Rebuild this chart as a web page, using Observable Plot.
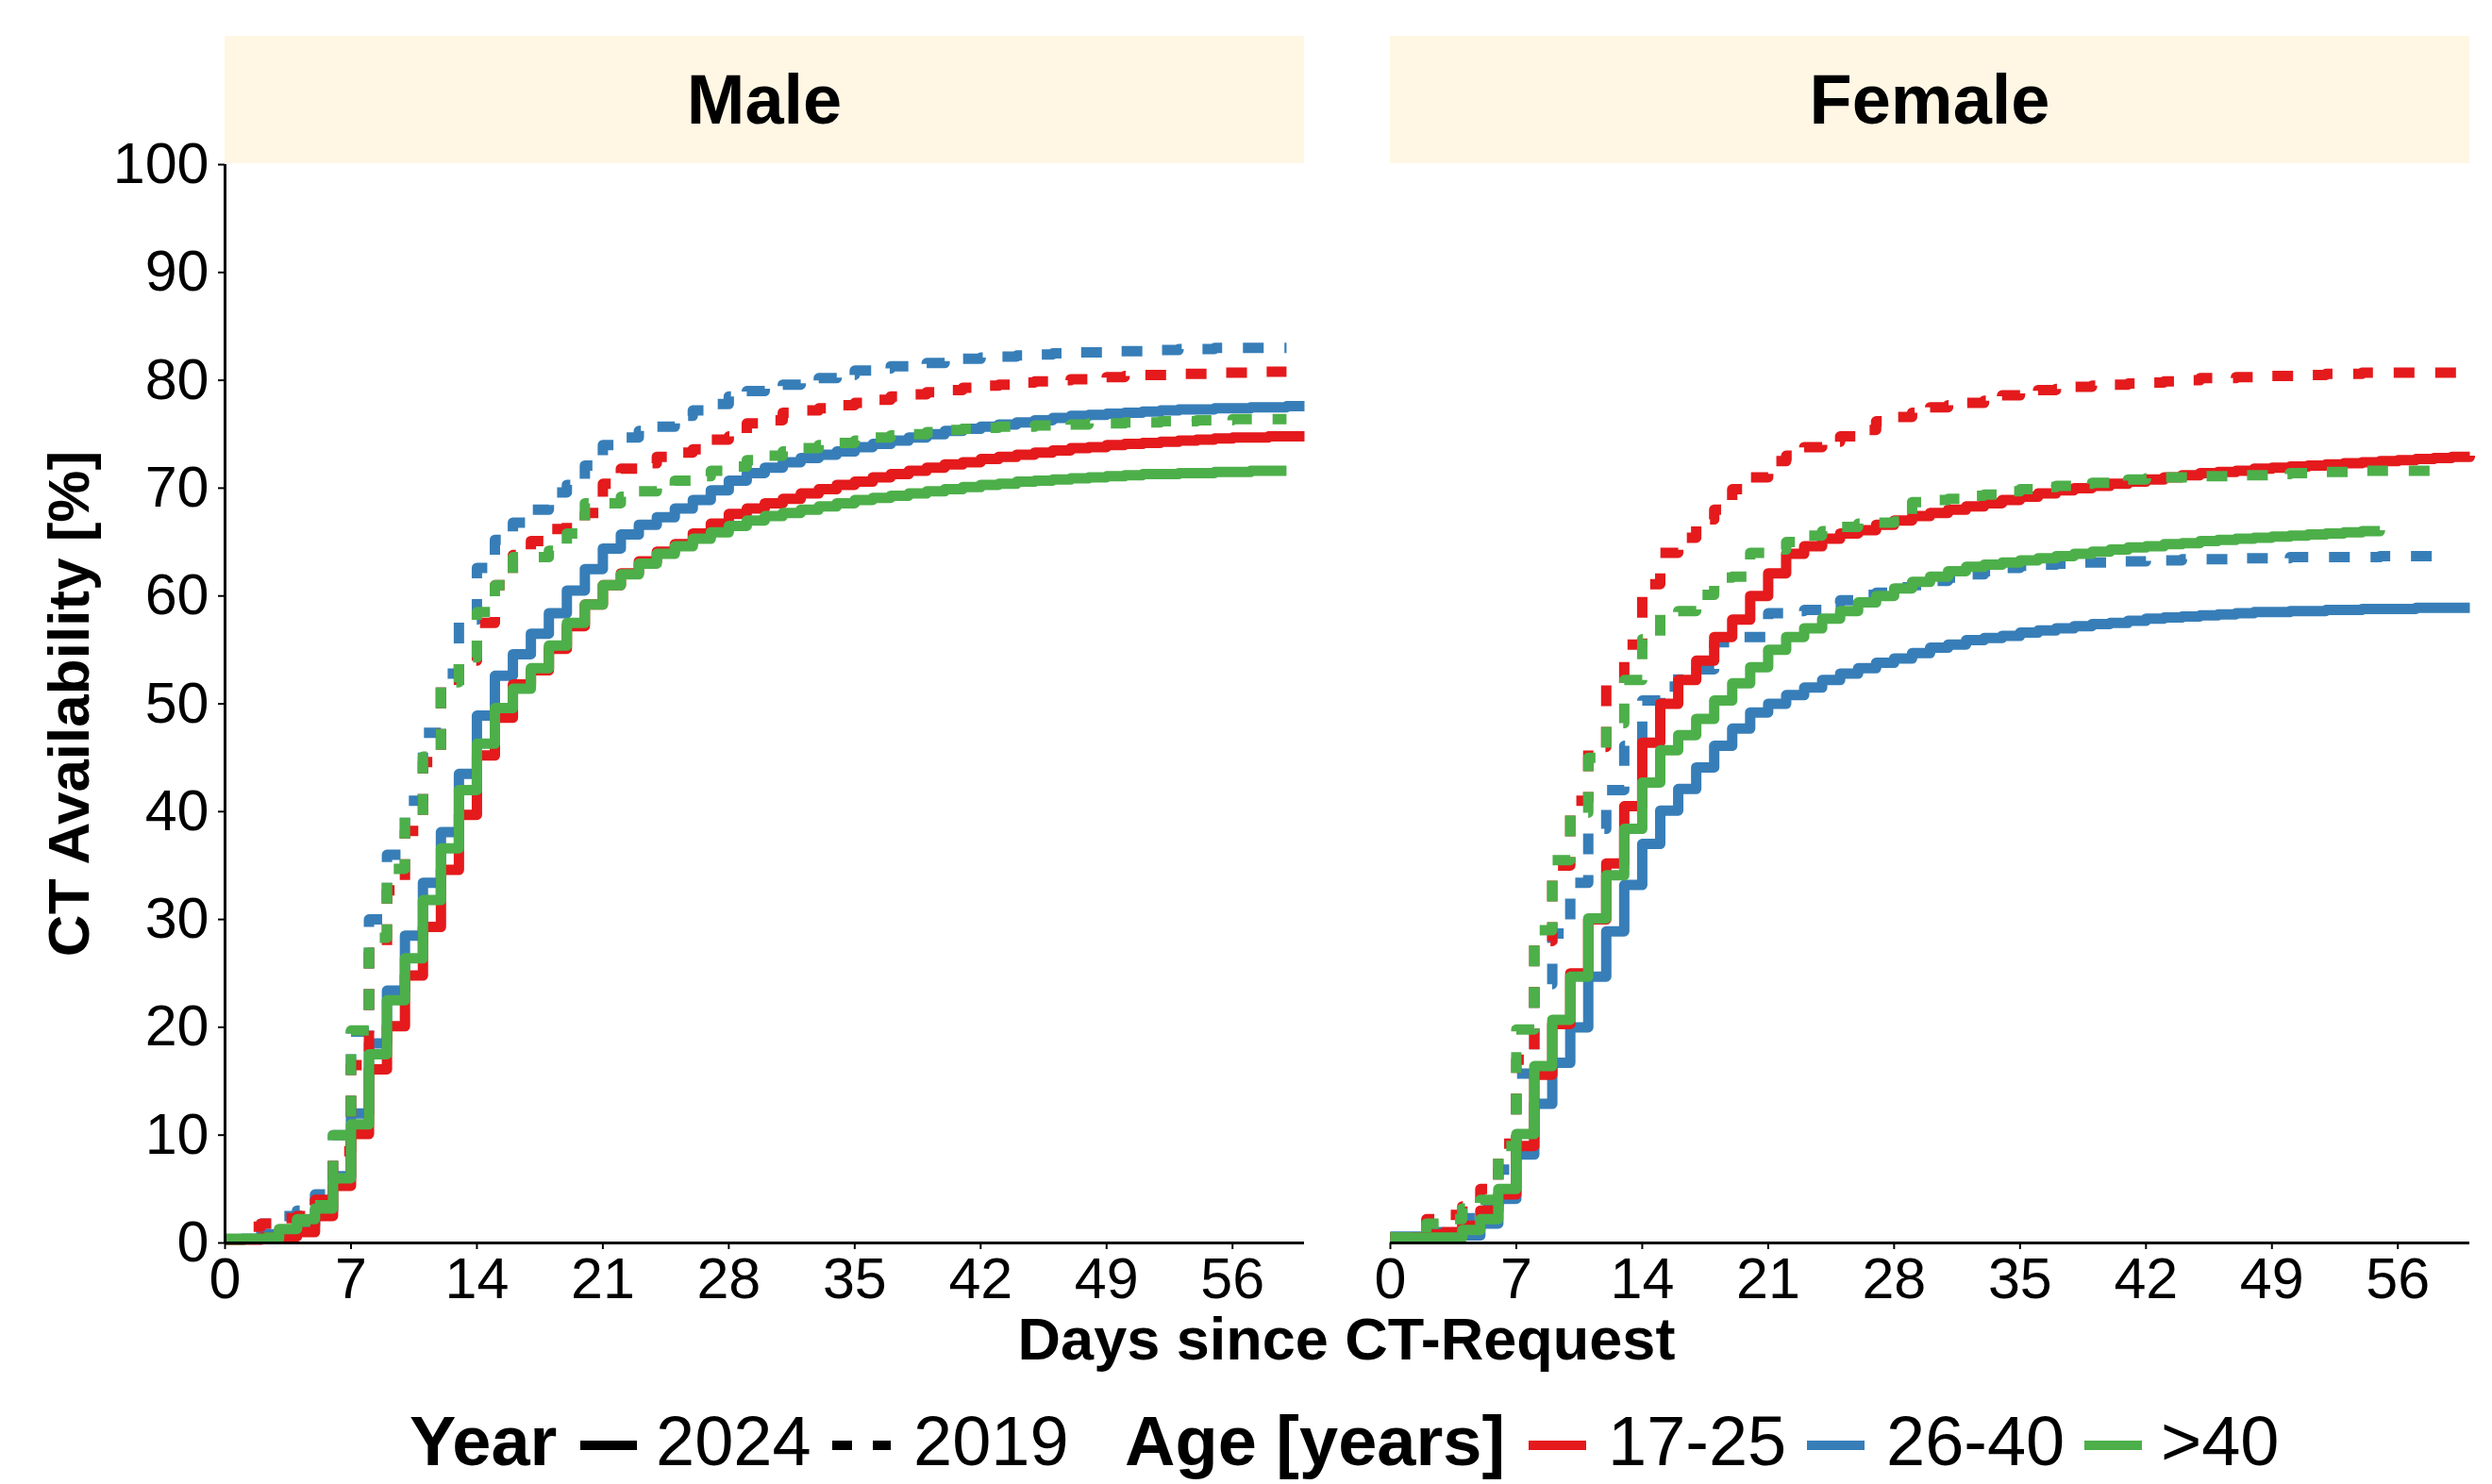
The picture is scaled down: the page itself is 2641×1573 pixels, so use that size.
<!DOCTYPE html>
<html>
<head>
<meta charset="utf-8">
<script src="https://cdn.jsdelivr.net/npm/d3@7"></script>
<script src="https://cdn.jsdelivr.net/npm/@observablehq/plot@0.6"></script>
<style>
  html, body { margin: 0; padding: 0; background: #fff; }
  #root { position: relative; width: 2641px; height: 1573px; overflow: hidden;
          font-family: "Liberation Sans", Arial, Helvetica, sans-serif; color: #000; }
  .strip { position: absolute; top: 38px; height: 135px; background: #FFF7E4;
           font-weight: bold; font-size: 74px; text-align: center; line-height: 135px; }
  .leg { position: absolute; top: 1491px; font-size: 74px; line-height: 74px; white-space: nowrap; }
  .legkey { position: absolute; top: 1526px; }
</style>
</head>
<body>
<div id="root"></div>
<script>
// ---------------- data ----------------
const days = [0,1,2,3,4,5,6,7,8,9,10,11,12,13,14,15,16,17,18,19,20,21,22,23,24,25,26,27,28,29,30,
              31,32,33,34,35,36,37,38,39,40,41,42,43,44,45,46,47,48,49,50,51,52,53,54,55,56,57,58,59,60];
const sexes = ["Male", "Female"];
const ageGroups = ["17-25", "26-40", ">40"];
const ageColors = ["#E41A1C", "#377EB8", "#4DAF4A"];
const years = ["2024", "2019"];
const xTicks = [0, 7, 14, 21, 28, 35, 42, 49, 56];
const yTicks = [0, 10, 20, 30, 40, 50, 60, 70, 80, 90, 100];

// Male, 2024 (solid)
const male2024_17_25 = [0.3,0.3,0.5,0.6,1.0,2.5,5.3,10.1,16.1,20.1,
  24.8,29.3,34.6,39.7,45.2,48.7,51.8,53.1,55.1,57.2,
  59.2,61.0,62.1,63.2,64.1,64.8,65.8,66.7,67.6,68.1,
  68.6,69.0,69.5,69.9,70.3,70.6,71.0,71.3,71.6,71.9,
  72.2,72.4,72.7,72.9,73.1,73.3,73.5,73.7,73.8,74.0,
  74.1,74.2,74.3,74.4,74.5,74.6,74.7,74.7,74.8,74.8,74.8];
const male2024_26_40 = [0.3,0.4,0.8,1.0,1.6,3.0,6.2,12.0,18.5,23.4,
  28.5,33.4,38.1,43.5,48.9,52.6,54.6,56.5,58.4,60.5,
  62.5,64.4,65.7,66.6,67.3,68.1,68.9,69.8,70.7,71.4,
  71.9,72.4,72.8,73.1,73.4,73.8,74.1,74.4,74.7,75.0,
  75.3,75.5,75.7,75.9,76.1,76.3,76.5,76.7,76.8,76.9,
  77.0,77.1,77.2,77.3,77.3,77.4,77.4,77.5,77.5,77.6,77.6];
const male2024_40plus = [0.4,0.4,0.4,1.3,2.2,3.2,6.0,11.0,17.5,22.5,
  26.4,31.8,36.6,42.0,46.3,49.6,51.4,53.3,55.4,57.5,
  59.2,61.0,62.0,63.0,63.9,64.6,65.3,65.9,66.5,67.0,
  67.4,67.7,68.0,68.3,68.6,68.9,69.1,69.3,69.5,69.7,
  69.9,70.1,70.3,70.4,70.6,70.7,70.8,70.9,71.0,71.1,
  71.2,71.3,71.3,71.4,71.4,71.5,71.5,71.6,71.6,71.6];
// Male, 2019 (dashed)
const male2019_17_25 = [0.3,1.5,1.8,2.3,2.5,4.0,8.5,16.5,26.9,32.7,
  38.2,44.6,51.5,54.0,57.5,61.0,63.8,65.1,66.2,67.0,
  67.7,70.4,71.8,72.3,72.9,73.3,73.6,74.5,74.8,76.0,
  76.3,77.0,77.2,77.4,77.7,77.9,78.2,78.5,78.7,78.9,
  79.1,79.3,79.5,79.6,79.8,79.9,80.0,80.1,80.2,80.3,
  80.4,80.5,80.5,80.6,80.6,80.7,80.7,80.8,80.8,80.8];
const male2019_26_40 = [0.3,1.0,1.8,2.5,3.0,4.5,10.0,19.6,30.0,36.0,
  41.0,47.3,52.8,57.8,62.6,65.2,66.8,68.0,69.6,70.3,
  72.1,74.0,74.7,75.3,75.7,76.7,77.2,77.8,78.5,79.0,
  79.3,79.6,79.9,80.2,80.5,80.9,81.1,81.3,81.4,81.6,
  81.8,82.0,82.1,82.2,82.3,82.4,82.5,82.6,82.6,82.7,
  82.7,82.8,82.8,82.9,82.9,83.0,83.0,83.0,83.0,83.0];
const male2019_40plus = [0.3,0.3,0.5,1.0,2.0,3.5,10.0,19.7,28.3,34.7,
  39.5,45.1,52.0,54.3,58.5,61.0,63.6,63.6,64.2,65.8,
  68.6,68.6,69.2,69.7,70.1,70.7,71.1,71.6,72.0,72.6,
  73.0,73.4,73.7,74.0,74.2,74.4,74.7,74.9,75.0,75.2,
  75.4,75.5,75.6,75.7,75.7,75.8,75.8,75.9,76.0,76.0,
  76.1,76.1,76.2,76.2,76.3,76.3,76.4,76.4,76.4,76.4];
// Female, 2024 (solid)
const female2024_17_25 = [0.5,0.5,0.8,1.0,1.6,3.0,4.5,9.0,15.6,20.3,
  25.0,30.0,35.2,40.5,46.4,50.0,52.2,54.0,56.2,57.8,
  60.0,62.1,63.9,64.6,65.3,65.8,66.1,66.6,67.0,67.4,
  67.7,68.0,68.3,68.6,68.9,69.2,69.5,69.8,70.0,70.2,
  70.4,70.6,70.8,71.0,71.2,71.4,71.5,71.6,71.8,71.9,
  72.0,72.1,72.2,72.3,72.4,72.5,72.6,72.7,72.8,72.9,73.0];
const female2024_26_40 = [0.6,0.6,0.6,0.6,0.7,1.8,4.1,8.2,12.9,16.7,
  20.0,24.7,28.9,33.2,37.0,40.1,42.1,44.1,46.1,47.7,
  49.2,50.0,50.8,51.5,52.2,52.8,53.3,53.8,54.2,54.7,
  55.2,55.5,55.9,56.1,56.3,56.6,56.8,57.0,57.2,57.4,
  57.5,57.7,57.9,58.0,58.1,58.2,58.3,58.4,58.5,58.5,
  58.6,58.6,58.7,58.7,58.8,58.8,58.8,58.9,58.9,58.9,58.9];
const female2024_40plus = [0.5,0.5,0.5,0.5,1.2,2.2,5.0,10.1,16.4,20.7,
  24.7,30.1,34.1,38.4,42.7,45.7,47.1,48.6,50.3,51.9,
  53.4,55.0,56.2,57.0,57.9,58.6,59.4,60.0,60.7,61.3,
  61.8,62.3,62.7,62.9,63.1,63.3,63.5,63.7,63.9,64.1,
  64.3,64.5,64.6,64.8,64.9,65.1,65.2,65.3,65.4,65.5,
  65.6,65.7,65.8,65.9,66.0,66.1];
// Female, 2019 (dashed)
const female2019_17_25 = [0.5,1.0,2.2,2.6,3.4,5.0,9.2,17.0,28.0,35.0,
  41.0,46.0,51.9,55.5,61.1,64.0,65.4,67.1,68.0,69.9,
  71.0,72.5,73.0,73.8,74.3,74.8,75.4,76.2,76.6,77.0,
  77.5,77.7,77.9,78.1,78.6,78.8,79.1,79.2,79.4,79.5,
  79.6,79.7,79.8,79.9,80.0,80.2,80.2,80.3,80.3,80.4,
  80.4,80.5,80.6,80.6,80.7,80.7,80.7,80.7,80.7,80.7,80.7];
const female2019_26_40 = [0.5,0.5,1.0,1.5,2.3,3.5,6.8,15.7,24.0,28.7,
  33.4,38.4,42.0,46.1,50.3,51.6,53.1,53.2,55.7,56.2,
  56.2,58.4,58.6,58.7,59.3,59.6,60.1,60.3,60.8,61.0,
  61.4,61.7,62.0,62.3,62.6,62.8,62.9,63.0,63.1,63.1,
  63.2,63.2,63.3,63.3,63.4,63.4,63.4,63.5,63.5,63.5,
  63.6,63.6,63.6,63.6,63.6,63.7,63.7,63.7,63.7];
const female2019_40plus = [0.5,0.5,1.8,2.2,3.2,4.0,9.0,19.8,29.0,35.5,
  39.9,45.0,48.2,52.2,56.0,58.4,58.6,60.1,61.7,61.8,
  64.0,64.3,65.0,65.6,66.0,66.4,66.7,66.8,66.9,68.7,
  68.9,69.0,69.3,69.4,69.7,69.9,70.1,70.2,70.4,70.5,
  70.6,70.8,70.9,71.0,71.0,71.1,71.1,71.2,71.2,71.3,
  71.4,71.4,71.5,71.5,71.6,71.6,71.6,71.6,71.6];

const seriesList = [
  {sex: "Male",   year: "2024", age: "17-25", values: male2024_17_25},
  {sex: "Male",   year: "2024", age: "26-40", values: male2024_26_40},
  {sex: "Male",   year: "2024", age: ">40",   values: male2024_40plus},
  {sex: "Male",   year: "2019", age: "17-25", values: male2019_17_25},
  {sex: "Male",   year: "2019", age: "26-40", values: male2019_26_40},
  {sex: "Male",   year: "2019", age: ">40",   values: male2019_40plus},
  {sex: "Female", year: "2024", age: "17-25", values: female2024_17_25},
  {sex: "Female", year: "2024", age: "26-40", values: female2024_26_40},
  {sex: "Female", year: "2024", age: ">40",   values: female2024_40plus},
  {sex: "Female", year: "2019", age: "17-25", values: female2019_17_25},
  {sex: "Female", year: "2019", age: "26-40", values: female2019_26_40},
  {sex: "Female", year: "2019", age: ">40",   values: female2019_40plus}
];
const rows = seriesList.flatMap(s => s.values.map((v, i) => ({sex: s.sex, year: s.year, age: s.age, day: days[i], value: v})));

// ---------------- layout ----------------
const FONT = '"Liberation Sans", Arial, Helvetica, sans-serif';
const root = document.getElementById("root");
const drawOrder = [["26-40","2019"],["26-40","2024"],["17-25","2019"],["17-25","2024"],[">40","2019"],[">40","2024"]];

function panel(sex, width, ml, mr) {
  const lines = drawOrder.map(([age, year]) =>
    Plot.line(rows.filter(r => r.sex === sex && r.age === age && r.year === year), {
      x: "day", y: "value", stroke: "age", curve: "step-after",
      strokeWidth: 11, strokeLinecap: "butt", strokeLinejoin: "round",
      strokeDasharray: year === "2019" ? "22,22" : null
    }));
  const marks = [...lines, Plot.ruleY([0], {strokeWidth: 3})];
  if (sex === "Male") marks.push(Plot.ruleX([0], {strokeWidth: 3}));
  marks.push(Plot.axisX({ticks: xTicks, tickSize: 7, tickPadding: 8, label: null, strokeWidth: 2, fontSize: 61}));
  if (sex === "Male") marks.push(Plot.axisY({ticks: yTicks, tickSize: 7, tickPadding: 10, label: null, strokeWidth: 2, fontSize: 61}));
  const svg = Plot.plot({
    width, height: 1268,
    marginTop: 40, marginBottom: 85, marginLeft: ml, marginRight: mr,
    style: {background: "transparent", fontFamily: FONT, fontSize: "61px", color: "#000", overflow: "visible"},
    x: {domain: [0, 60], axis: null},
    y: {domain: [0, 100], axis: null},
    color: {domain: ageGroups, range: ageColors},
    marks
  });
  svg.style.position = "absolute";
  svg.style.top = "134px";
  svg.style.maxWidth = "none";
  return svg;
}

const male = panel("Male", 1400, 238, 18);
male.style.left = "0px";
root.appendChild(male);
const female = panel("Female", 1208, 40, 24);
female.style.left = "1433px";
root.appendChild(female);

// facet strips
[["Male", 238, 1144], ["Female", 1473, 1144]].forEach(([t, l, w]) => {
  const d = document.createElement("div");
  d.className = "strip";
  d.style.left = l + "px"; d.style.width = w + "px";
  d.textContent = t;
  root.appendChild(d);
});

// axis titles
const yt = document.createElement("div");
yt.textContent = "CT Availability [%]";
Object.assign(yt.style, {position: "absolute", left: "0px", top: "0px", fontWeight: "bold", fontSize: "62px",
  lineHeight: "62px", whiteSpace: "nowrap", transformOrigin: "0 0",
  transform: "translate(42px, 746px) rotate(-90deg) translateX(-50%)"});
root.appendChild(yt);

const xt = document.createElement("div");
xt.textContent = "Days since CT-Request";
Object.assign(xt.style, {position: "absolute", left: "1427px", top: "1388px", fontWeight: "bold", fontSize: "63px",
  lineHeight: "63px", whiteSpace: "nowrap", transform: "translateX(-50%)"});
root.appendChild(xt);

// legend
function legText(txt, left, bold) {
  const s = document.createElement("div");
  s.className = "leg";
  s.style.left = left + "px";
  if (bold) s.style.fontWeight = "bold";
  s.textContent = txt;
  root.appendChild(s);
}
function legKey(left, width, color, dashed) {
  const ns = "http://www.w3.org/2000/svg";
  const svg = document.createElementNS(ns, "svg");
  svg.setAttribute("width", width); svg.setAttribute("height", 12);
  svg.setAttribute("class", "legkey");
  svg.style.left = left + "px";
  const ln = document.createElementNS(ns, "line");
  ln.setAttribute("x1", 0); ln.setAttribute("x2", width);
  ln.setAttribute("y1", 6); ln.setAttribute("y2", 6);
  ln.setAttribute("stroke", color); ln.setAttribute("stroke-width", 10);
  if (dashed) ln.setAttribute("stroke-dasharray", "21,22");
  svg.appendChild(ln);
  root.appendChild(svg);
}
legText("Year", 434, true);
legKey(615, 60, "#000", false);
legText(years[0], 695, false);
legKey(882, 62, "#000", true);
legText(years[1], 968, false);
legText("Age [years]", 1192, true);
const keyLefts = [1620, 1915, 2209];
const labLefts = [1704, 1999, 2290];
ageGroups.forEach((a, i) => {
  legKey(keyLefts[i], 61, ageColors[i], false);
  legText(a, labLefts[i], false);
});
</script>
</body>
</html>
